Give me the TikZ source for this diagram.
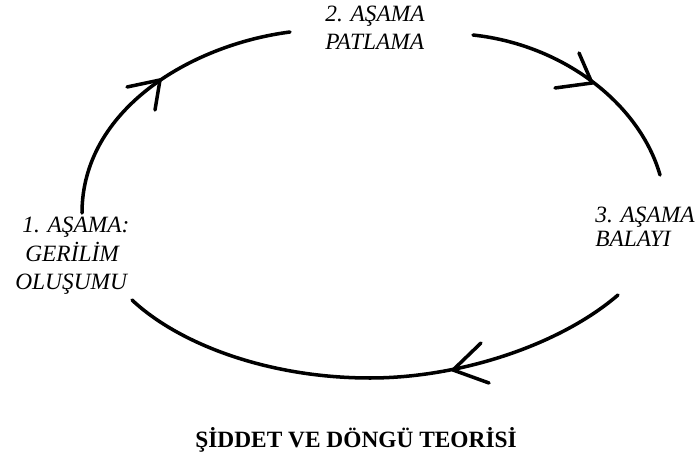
\documentclass[tikz,border=0pt]{standalone}
\usepackage{fontspec}
\setmainfont{Liberation Serif}
\begin{document}
\begin{tikzpicture}[x=0.02cm,y=-0.02cm,
  cyc/.style={line width=2pt, line cap=round, line join=round},
  lbl/.style={font=\itshape\fontsize{13.3}{15}\selectfont, inner sep=0pt, anchor=base west},
  ttl/.style={font=\bfseries\fontsize{13.3}{15}\selectfont, inner sep=0pt, anchor=base west}]
\useasboundingbox (0,0) rectangle (696,455);
% stage labels
\node[lbl] (s1a) at (22,233) {1. AŞAMA:};
\node[lbl] (s1b) at (25,262) {GERİLİM};
\node[lbl] (s1c) at (15,290) {OLUŞUMU};
\node[lbl] (s2a) at (325,22) {2. AŞAMA};
\node[lbl] (s2b) at (325,50) {PATLAMA};
\node[lbl] (s3a) at (595,223) {3. AŞAMA};
\node[lbl] (s3b) at (595,247) {BALAYI};
\node[ttl] (title) at (195,447) {ŞİDDET VE DÖNGÜ TEORİSİ};
% arc 1 -> 2
\coordinate (a1s) at (82,213);
\coordinate (a1e) at (290,32);
\draw[cyc] (a1s) .. controls (82,110) and (190,45) .. (a1e);
\coordinate (t1) at (160,80);
\draw[cyc] (t1) -- ++(-33,7);
\draw[cyc] (t1) -- ++(-5,30);
% arc 2 -> 3
\coordinate (a2s) at (473,35);
\coordinate (a2e) at (660,175);
\draw[cyc] (a2s) .. controls (565,45) and (640,105) .. (a2e);
\coordinate (t2) at (592,83);
\draw[cyc] (t2) -- ++(-13,-30);
\draw[cyc] (t2) -- ++(-37,5);
% arc 3 -> 1
\coordinate (a3s) at (618,295);
\coordinate (a3m) at (370,378);
\coordinate (a3e) at (132,300);
\draw[cyc] (a3s) .. controls (560,345) and (460,378) .. (a3m)
  .. controls (270,378) and (180,345) .. (a3e);
\coordinate (t3) at (453,370);
\draw[cyc] (t3) -- ++(28,-27);
\draw[cyc] (t3) -- ++(36,13);
\end{tikzpicture}
\end{document}
